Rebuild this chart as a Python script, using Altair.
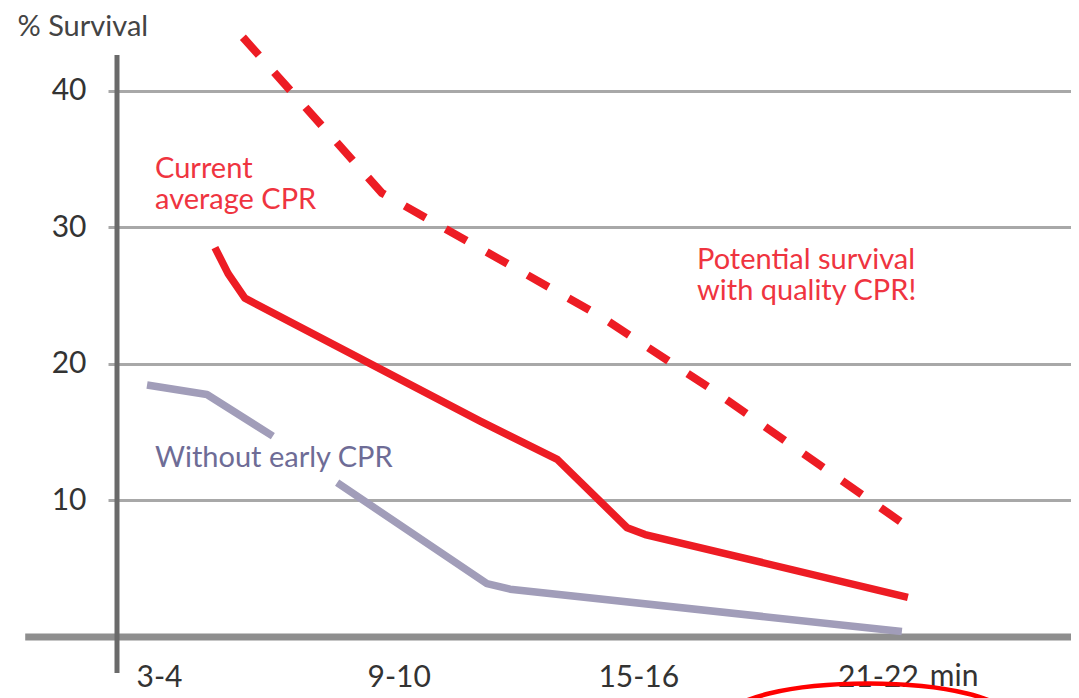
import altair as alt
import pandas as pd

# ---------------- data ----------------
potential_min = [5.60, 9.08, 14.54, 17.30, 22.43]
potential_pct = [43.9, 32.5, 23.5, 18.2, 7.7]

current_min = [4.90, 5.23, 5.65, 11.54, 13.47, 15.22, 15.67, 22.25]
current_pct = [28.5, 26.6, 24.8, 15.8, 13.0, 8.0, 7.5, 2.9]

without_min_a = [3.20, 4.70, 6.35]
without_pct_a = [18.45, 17.75, 14.7]
without_min_b = [7.96, 11.71, 12.29, 22.10]
without_pct_b = [11.3, 3.9, 3.5, 0.4]

tick_minutes = [3.5, 9.5, 15.5, 21.5]
tick_labels = ["3-4", "9-10", "15-16", "21-22"]
unit_label = "min"
unit_min = [22.80]
unit_pct = [-3.59]
y_ticks = [10, 20, 30, 40]

note_text = ["Current\naverage CPR", "Potential survival\nwith quality CPR!", "Without early CPR"]
note_min = [3.40, 16.97, 3.40]
note_pct = [33.6, 26.9, 12.45]
note_kind = ["red", "red", "gray"]

circle_min = [21.25]
circle_pct = [-5.9]

# ---------------- styling ----------------
RED = "#ED1C24"
RED_TEXT = "#EF3440"
GRAY_LINE = "#A19DB9"
GRAY_TEXT = "#6E6C96"
GRID = "#A8A8A8"
FONT = "Lato"
X_DOMAIN = [2.448, 26.334]
Y_DOMAIN = [0, 42.6]

label_expr = " : ".join(
    f"datum.value == {m} ? '{t}'" for m, t in zip(tick_minutes, tick_labels)
) + " : ''"

x_axis = alt.Axis(values=tick_minutes, labelExpr=label_expr, domain=False, ticks=False,
                  tickSize=0, grid=False, labelFontSize=30, labelFont=FONT,
                  labelColor="#333333", labelPadding=25, labelFlush=False, title=None)
y_axis = alt.Axis(values=y_ticks, domain=False, grid=True, gridColor=GRID, gridWidth=3,
                  ticks=True, tickSize=9, tickColor=GRID, tickWidth=3,
                  labelFontSize=30, labelFont=FONT, labelColor="#333333", labelPadding=22,
                  title="% Survival", titleAngle=0, titleAlign="left",
                  titleBaseline="alphabetic", titleX=-100, titleY=-20, titleFontSize=29,
                  titleFont=FONT, titleFontWeight="normal", titleColor="#444444")

xs = alt.Scale(domain=X_DOMAIN, nice=False, zero=False)
ys = alt.Scale(domain=Y_DOMAIN, nice=False, zero=False)


def X(field="m"):
    return alt.X(f"{field}:Q", scale=xs, axis=x_axis)


def Y(field="p"):
    return alt.Y(f"{field}:Q", scale=ys, axis=y_axis)


potential_df = pd.DataFrame({"m": potential_min, "p": potential_pct})
current_df = pd.DataFrame({"m": current_min, "p": current_pct})
without_df = pd.DataFrame({
    "m": without_min_a + without_min_b,
    "p": without_pct_a + without_pct_b,
    "seg": ["a"] * len(without_min_a) + ["b"] * len(without_min_b),
})
notes_df = pd.DataFrame({"m": note_min, "p": note_pct, "t": note_text, "k": note_kind})
unit_df = pd.DataFrame({"m": unit_min, "p": unit_pct, "t": [unit_label]})
circle_df = pd.DataFrame({"m": circle_min, "p": circle_pct})

base_line = alt.Chart(pd.DataFrame({"m": [0.15, X_DOMAIN[1]], "p": [0, 0]})).mark_line(
    color="#8E8E8E", strokeWidth=7, strokeCap="butt").encode(x=X(), y=Y())

y_line = alt.Chart(pd.DataFrame({"m": [X_DOMAIN[0], X_DOMAIN[0]], "p": [-2.64, Y_DOMAIN[1]]})).mark_line(
    color="#6A6A6A", strokeWidth=5, strokeCap="butt").encode(x=X(), y=Y())

potential = alt.Chart(potential_df).mark_line(
    color=RED, strokeWidth=8, strokeDash=[24, 23], strokeCap="butt", strokeJoin="round"
).encode(x=X(), y=Y())

current = alt.Chart(current_df).mark_line(
    color=RED, strokeWidth=7.5, strokeCap="butt", strokeJoin="round"
).encode(x=X(), y=Y())

without = alt.Chart(without_df).mark_line(
    color=GRAY_LINE, strokeWidth=7.5, strokeCap="butt", strokeJoin="round"
).encode(x=X(), y=Y(), detail="seg:N")

notes = alt.Chart(notes_df).mark_text(
    align="left", baseline="alphabetic", fontSize=29, font=FONT, lineBreak="\n", lineHeight=31
).encode(
    x=X(), y=Y(), text="t:N",
    color=alt.Color("k:N", scale=alt.Scale(domain=["red", "gray"], range=[RED_TEXT, GRAY_TEXT]),
                    legend=None),
)

unit = alt.Chart(unit_df).mark_text(
    align="left", baseline="alphabetic", fontSize=30, font=FONT, color="#333333"
).encode(x=X(), y=Y(), text="t:N")

k = 0.5523
ry = 0.243
ellipse_path = (
    f"M -1 0 C -1 {-ry*k:.4f} {-k} {-ry} 0 {-ry} "
    f"C {k} {-ry} 1 {-ry*k:.4f} 1 0 "
    f"C 1 {ry*k:.4f} {k} {ry} 0 {ry} "
    f"C {-k} {ry} -1 {ry*k:.4f} -1 0 Z"
)
circle = alt.Chart(circle_df).mark_point(
    shape=ellipse_path, size=280 * 280, filled=False, strokeWidth=4.5, color="#FF0000", opacity=1
).encode(x=X(), y=Y())

chart = alt.layer(base_line, y_line, without, current, potential, notes, unit, circle).properties(
    width=954, height=582,
    autosize=alt.AutoSizeParams(type="none"),
    padding={"left": 109, "top": 47, "right": 0, "bottom": 61},
    background="white",
).configure_view(stroke=None)

chart.save("out.html", embed_options={"renderer": "svg", "actions": False})
